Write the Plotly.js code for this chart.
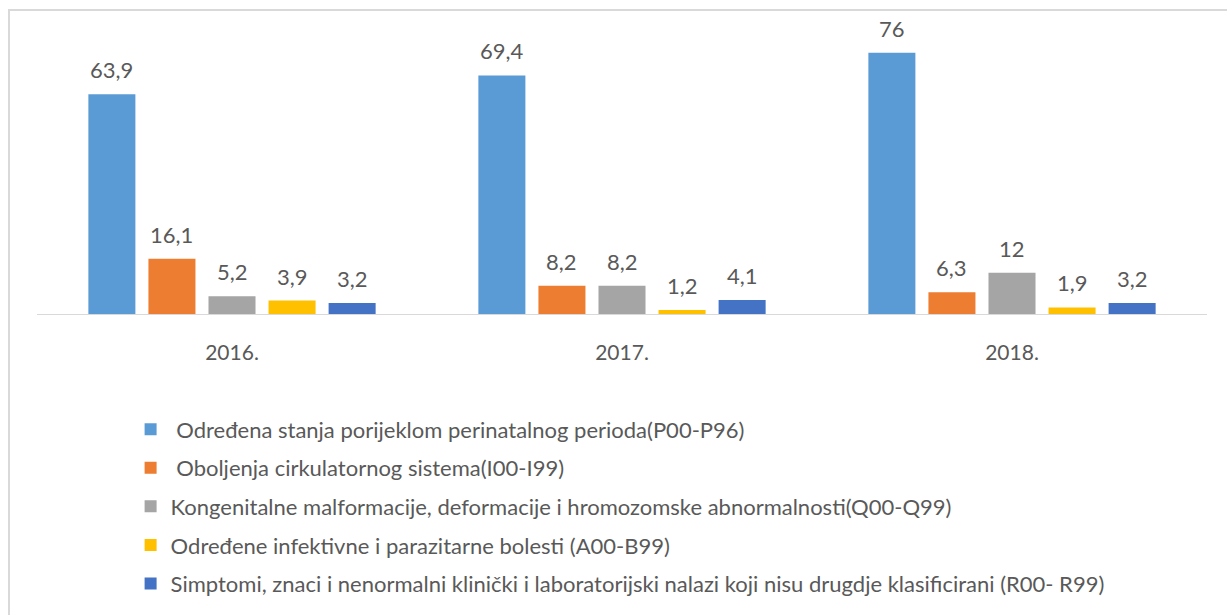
<!DOCTYPE html>
<html>
<head>
<meta charset="utf-8">
<script src="https://cdn.plot.ly/plotly-3.0.1.min.js"></script>
<style>
html,body{margin:0;padding:0;background:#fff;}
#wrap{position:absolute;left:8px;top:9px;width:1219px;height:606px;border-top:2px solid #d9d9d9;border-left:2px solid #d9d9d9;box-sizing:border-box;}
#chart{position:absolute;left:0;top:0;width:1227px;height:615px;}
</style>
</head>
<body>
<div id="wrap"></div>
<div id="chart"></div>
<script>
var years = ["2016.", "2017.", "2018."];
var seriesNames = [
  " Određena stanja porijeklom perinatalnog perioda(P00-P96)",
  " Oboljenja cirkulatornog sistema(I00-I99)",
  "Kongenitalne malformacije, deformacije i hromozomske abnormalnosti(Q00-Q99)",
  "Određene infektivne i parazitarne bolesti (A00-B99)",
  "Simptomi, znaci i nenormalni klinički i laboratorijski nalazi koji nisu drugdje klasificirani (R00- R99)"
];
var perinatal = [63.9, 69.4, 76];
var cirkulatorni = [16.1, 8.2, 6.3];
var kongenitalne = [5.2, 8.2, 12];
var infektivne = [3.9, 1.2, 1.9];
var simptomi = [3.2, 4.1, 3.2];
var colors = ["#5B9BD5", "#ED7D31", "#A5A5A5", "#FFC000", "#4472C4"];

var allSeries = [perinatal, cirkulatorni, kongenitalne, infektivne, simptomi];
function fmt(v){ return String(v).replace('.', ','); }

var W = 1227, H = 615;
var margin = {l: 37, r: 20, t: 39, b: 301, autoexpand: false};
var bargap = 0.23;
var plotW = W - margin.l - margin.r;
var band = plotW / years.length;
var slot = band * (1 - bargap) / allSeries.length;

var traces = allSeries.map(function(vals, i){
  return {
    type: 'bar',
    name: seriesNames[i],
    x: years,
    y: vals,
    marker: {color: colors[i]},
    legendgroup: 'g' + i,
    hoverinfo: 'skip'
  };
});

var annotations = [];
allSeries.forEach(function(vals, i){
  vals.forEach(function(v, j){
    annotations.push({
      x: j, y: v, xref: 'x', yref: 'y',
      text: fmt(v), showarrow: false,
      xanchor: 'center', yanchor: 'bottom',
      xshift: (i - (allSeries.length - 1) / 2) * slot,
      yshift: 9,
      font: {family: 'Lato, sans-serif', size: 22, color: '#595959'}
    });
  });
});

var layout = {
  width: W, height: H,
  margin: margin,
  paper_bgcolor: 'rgba(0,0,0,0)',
  plot_bgcolor: 'rgba(0,0,0,0)',
  barmode: 'group',
  bargap: bargap,
  bargroupgap: 0.217,
  font: {family: 'Lato, sans-serif', color: '#595959'},
  xaxis: {
    type: 'category',
    range: [-0.5, years.length - 0.5],
    showline: true, linecolor: '#d9d9d9', linewidth: 1,
    ticks: '', tickfont: {size: 21, color: '#595959'},
    ticklabelstandoff: 20, showgrid: false, zeroline: false,
    automargin: false
  },
  yaxis: {
    range: [0, 80], visible: false, showgrid: false, zeroline: false
  },
  annotations: annotations,
  showlegend: true,
  legend: {
    orientation: 'v',
    x: 0.08, xanchor: 'left',
    y: -0.343, yanchor: 'top',
    font: {size: 22, color: '#595959'},
    tracegroupgap: 7,
    traceorder: 'grouped',
    itemwidth: 30
  }
};

Plotly.newPlot('chart', traces, layout, {displayModeBar: false, staticPlot: true});
</script>
</body>
</html>
